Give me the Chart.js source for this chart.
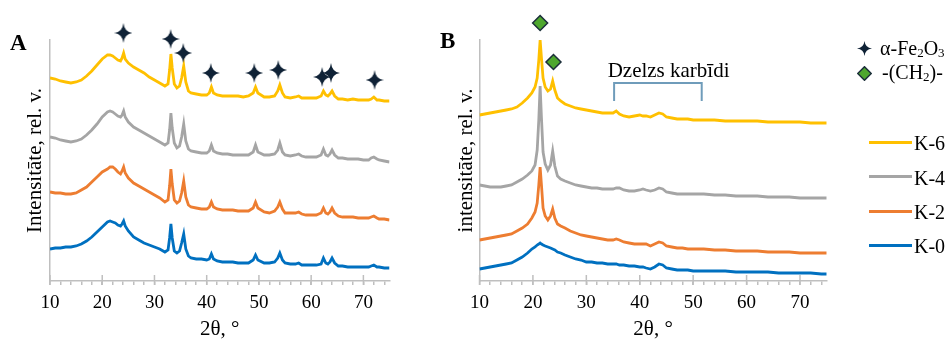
<!DOCTYPE html>
<html><head><meta charset="utf-8">
<script src="https://cdn.jsdelivr.net/npm/chart.js@4.4.1/dist/chart.umd.min.js"></script>
<style>
html,body{margin:0;padding:0;background:#fff;}
#wrap{position:relative;width:951px;height:342px;overflow:hidden;font-family:'Liberation Serif','Times New Roman',serif;color:#000;}
canvas{position:absolute;top:0;}
#cA{left:0;}
#cB{left:400px;}
.pl{position:absolute;font-weight:bold;font-size:23px;line-height:23px;}
.leg{position:absolute;font-size:20px;line-height:24px;white-space:nowrap;}
.sw{position:absolute;height:3px;width:43px;}
svg{position:absolute;}
</style></head>
<body><div id="wrap">
<canvas id="cA" width="400" height="342"></canvas>
<canvas id="cB" width="551" height="342"></canvas>
<div class="pl" style="left:10px;top:31px">A</div>
<div class="pl" style="left:440px;top:29px">B</div>
<svg style="left:857px;top:41px" width="15" height="15" viewBox="0 0 20 20"><path d="M10 0 Q11 9 20 10 Q11 11 10 20 Q9 11 0 10 Q9 9 10 0Z" fill="#0f2236"/></svg>
<div class="leg" style="left:880px;top:36px">α-Fe<sub style="font-size:13px;vertical-align:-2px">2</sub>O<sub style="font-size:13px;vertical-align:-2px">3</sub></div>
<svg style="left:857px;top:66px" width="15" height="15" viewBox="0 0 20 20"><path d="M10 1 L19 10 L10 19 L1 10Z" fill="#4ea72e" stroke="#1c2f3a" stroke-width="2"/></svg>
<div class="leg" style="left:882px;top:60px">-(CH<sub style="font-size:13px;vertical-align:-2px">2</sub>)-</div>
<div class="sw" style="left:869px;top:141px;background:#FFC000"></div>
<div class="leg" style="left:914px;top:131px">K-6</div>
<div class="sw" style="left:869px;top:175px;background:#A5A5A5"></div>
<div class="leg" style="left:914px;top:166px">K-4</div>
<div class="sw" style="left:869px;top:209.5px;background:#ED7D31"></div>
<div class="leg" style="left:914px;top:200px">K-2</div>
<div class="sw" style="left:869px;top:243.5px;background:#0070C0"></div>
<div class="leg" style="left:914px;top:234px">K-0</div>
</div>
<script>
// ---------- Panel A data (2θ, relative intensity) ----------
const xA = [10,11,12,13,14,15,16,17,18,19,20,21,21.5,22,22.5,23,23.5,23.8,24.1,24.4,25,26,27,28,29,30,31,32,32.6,32.9,33.15,33.4,33.8,34.3,34.8,35.2,35.6,36.0,36.5,37,38,39,40,40.5,40.9,41.3,42,43,44,45,46,47,48,48.9,49.35,49.8,51,52,53,53.6,54.0,54.5,55,56,57,57.6,58.2,59,60,61,61.9,62.35,62.8,63.2,63.6,64.0,64.5,65.2,66,67,68,69,70,71,71.5,72.0,72.6,73,74,75];
const k6A = [203,202,200,199,198,199,201,205,210,216,222,226,226,225,223,221,220,223,228,222,218,214,211,208,204,201,198,195,197,211,227,213,197,193,195,203,215,199,190,188,187,186,186,188,194,188,186,185,185,185,185,184,185,188,194,188,184,184,185,190,196,188,184,183,184,185,183,183,183,183,185,190,186,185,187,190,185,182,182,181,182,181,181,181,182,184,181,181,180,180];
const k4A = [144,143,141,140,139,140,142,146,151,157,164,169,170,169,167,165,164,166,170,164,159,154,151,148,145,142,139,136,138,151,168,153,138,133,135,144,157,140,132,130,129,128,128,130,136,130,128,127,127,126,126,126,126,129,136,129,126,126,127,131,138,129,126,125,126,127,125,124,124,124,126,132,126,125,127,131,126,123,123,122,122,122,121,121,123,124,122,121,120,119];
const k2A = [89,88,88,87,87,88,91,94,99,104,109,112,114,114,112,109,107,110,114,108,103,98,95,92,89,86,83,79,81,95,112,97,81,78,80,88,100,84,76,74,73,72,72,74,79,74,72,71,71,71,70,70,70,73,79,73,69,68,70,74,79,72,68,68,68,69,67,66,66,66,68,73,68,67,69,73,68,65,64,64,64,63,63,63,64,65,63,62,62,61];
const k0A = [32,33,33,34,34,35,37,40,44,49,54,59,60,59,58,56,55,57,60,55,50,44,41,38,36,34,32,29,31,43,57,43,30,28,30,38,47,32,25,23,22,22,21,22,27,22,20,19,19,19,18,18,18,21,26,21,18,18,19,23,28,21,18,17,17,18,16,16,16,16,17,23,18,17,19,23,18,15,15,14,14,14,14,14,15,16,14,14,13,13];
// α-Fe2O3 reflection markers
const starX = [24.05,33.1,35.5,40.8,49.1,53.7,62.1,63.8,72.15];
const starY = [248,242,228,208,208,211,204,208,201];

// ---------- Panel B data ----------
const xB = [10,11,12,13,14,15,16,17,18,19,19.8,20.4,20.8,21.1,21.35,21.6,21.9,22.3,22.8,23.3,23.7,24.1,24.6,25.2,26,27,28,29,30,31,32,33,34,35,35.6,36.2,37,38,39,40,40.6,41.2,42,42.8,43.6,44.3,45,46,47,48,49,50,52,54,56,58,60,62,64,66,68,70,72,74,75];
const k6B = [166,167,168,169,170,171,172,174,178,183,188,194,203,221,241,223,203,194,190,192,200,191,183,180,177,175,173,172,171,170,169,168,168,168,170,167,165,164,165,166,165,165,164,166,168,167,164,163,162,162,162,161,161,161,160,160,160,160,159,159,159,159,158,158,158];
const k4B = [96,95,94,94,94,95,96,99,102,106,110,116,131,161,195,163,129,117,111,116,130,115,105,102,100,98,96,95,94,93,93,92,92,92,93,93,91,90,90,91,92,91,90,91,93,92,89,88,87,87,87,87,87,86,86,85,85,85,84,84,84,83,83,83,83];
const k2B = [41,42,43,44,45,46,47,50,53,57,63,69,78,96,114,96,73,65,61,65,72,63,57,55,53,50,48,46,45,44,43,42,41,41,42,41,39,38,37,37,37,37,35,37,39,38,35,34,33,33,32,32,32,31,31,30,30,30,29,29,29,28,28,28,28];
const k0B = [12,13,14,15,16,17,18,21,24,28,32,34,36,37,38,37,36,35,34,33,32,31,29,28,26,24,22,21,19,19,18,18,17,17,17,16,16,15,15,14,14,13,12,14,17,16,13,12,11,11,11,10,10,10,10,9,9,9,9,8,8,8,8,7,7];
// -(CH2)- markers
const diamondX = [21.35,23.85];
const diamondY = [258,219];
// iron carbide bracket and its label
const bracketX = [35.2,35.2,51.6,51.6];
const bracketY = [180,198,198,180];
const carbideLabel = 'Dzelzs karbīdi';
const carbideLabelX = 45.4;
const carbideLabelY = 204;

const xTickMajor = [10,20,30,40,50,60,70];

// ---------- styling ----------
const FONT = 'Liberation Serif';
const axisColor = '#bfbfbf';
const colors = {k6:'#FFC000', k4:'#A5A5A5', k2:'#ED7D31', k0:'#0070C0'};

function pts(xs, ys){ return xs.map((x,i)=>({x:x, y:ys[i]})); }
function lineDs(label, xs, ys, color){
  return {type:'line', label:label, data:pts(xs,ys), borderColor:color, backgroundColor:color,
    borderWidth:2.8, pointRadius:0, tension:0, fill:false};
}
function makeStar(w,h,color){
  const c=document.createElement('canvas'); c.width=w; c.height=h;
  const g=c.getContext('2d'); const cx=w/2, cy=h/2;
  g.fillStyle=color; g.beginPath();
  g.moveTo(cx,0); g.quadraticCurveTo(cx+1,cy-1,w,cy); g.quadraticCurveTo(cx+1,cy+1,cx,h);
  g.quadraticCurveTo(cx-1,cy+1,0,cy); g.quadraticCurveTo(cx-1,cy-1,cx,0); g.closePath(); g.fill();
  return c;
}
const starImg = makeStar(18,20,'#0f2236');

const majorTickPlugin = {
  id:'majorTicks',
  afterDraw(chart){
    const s=chart.scales.x, ctx=chart.ctx;
    ctx.save(); ctx.strokeStyle=axisColor; ctx.lineWidth=1.5;
    xTickMajor.forEach(v=>{ const px=s.getPixelForValue(v);
      ctx.beginPath(); ctx.moveTo(px,s.top-6); ctx.lineTo(px,s.top+4); ctx.stroke(); });
    ctx.restore();
  }
};
const textPlugin = {
  id:'carbideText',
  afterDatasetsDraw(chart){
    const o=chart.options.plugins.carbideText; if(!o||!o.show) return;
    const ctx=chart.ctx, xs=chart.scales.x, ys=chart.scales.y;
    ctx.save(); ctx.fillStyle='#000'; ctx.font='21px "'+FONT+'"'; ctx.textAlign='center'; ctx.textBaseline='alphabetic';
    ctx.fillText(carbideLabel, xs.getPixelForValue(carbideLabelX), ys.getPixelForValue(carbideLabelY));
    ctx.restore();
  }
};

function makeOptions(yTitle, yWidth, yTitlePad, padRight, showText){
  return {
    responsive:false, animation:false, devicePixelRatio:1,
    layout:{autoPadding:false, padding:{left:0,right:padRight,top:40,bottom:0}},
    plugins:{legend:{display:false}, tooltip:{enabled:false}, carbideText:{show:showText}},
    scales:{
      x:{type:'linear', min:10, max:75,
        ticks:{stepSize:2, includeBounds:false, autoSkip:false, maxRotation:0, padding:7, color:'#000',
          font:{family:FONT,size:19}, callback:v=> (v%10===0 ? String(v) : '')},
        grid:{display:true, drawOnChartArea:false, drawTicks:true, tickLength:4, color:axisColor, lineWidth:1.5},
        border:{display:true, color:axisColor, width:1.5},
        title:{display:true, text:'2θ, °', color:'#000', font:{family:FONT,size:21}, padding:{top:0,bottom:0}},
        afterFit(s){ s.height=61; }
      },
      y:{type:'linear', min:0, max:241,
        ticks:{display:false},
        grid:{display:true, drawOnChartArea:false, drawTicks:false},
        border:{display:true, color:axisColor, width:1.5},
        title:{display:true, text:yTitle, color:'#000', font:{family:FONT,size:21}, padding:{top:yTitlePad,bottom:0}},
        afterFit(s){ s.width=yWidth; }
      }
    }
  };
}

new Chart(document.getElementById('cA'), {
  type:'line',
  data:{datasets:[
    {type:'line', label:'α-Fe2O3', data:pts(starX,starY), showLine:false, pointStyle:starImg, pointRadius:9, hoverRadius:30, clip:false},
    lineDs('K-0',xA,k0A,colors.k0),
    lineDs('K-2',xA,k2A,colors.k2),
    lineDs('K-4',xA,k4A,colors.k4),
    lineDs('K-6',xA,k6A,colors.k6)
  ]},
  options:makeOptions('Intensitāte, rel. v.', 50, 23, 10.5, false),
  plugins:[majorTickPlugin]
});

new Chart(document.getElementById('cB'), {
  type:'line',
  data:{datasets:[
    {type:'line', label:'-(CH2)-', data:pts(diamondX,diamondY), showLine:false, pointStyle:'rectRot', pointRadius:7.5, hoverRadius:30,
      backgroundColor:'#4ea72e', borderColor:'#1c2f3a', borderWidth:1.5, clip:false},
    {type:'line', label:'bracket', data:pts(bracketX,bracketY), borderColor:'#6f9cba', borderWidth:2, pointRadius:0, tension:0},
    lineDs('K-0',xB,k0B,colors.k0),
    lineDs('K-2',xB,k2B,colors.k2),
    lineDs('K-4',xB,k4B,colors.k4),
    lineDs('K-6',xB,k6B,colors.k6)
  ]},
  options:makeOptions('intensitāte, rel. v.', 79.5, 54, 124.3, true),
  plugins:[majorTickPlugin, textPlugin]
});
</script>
</body></html>
